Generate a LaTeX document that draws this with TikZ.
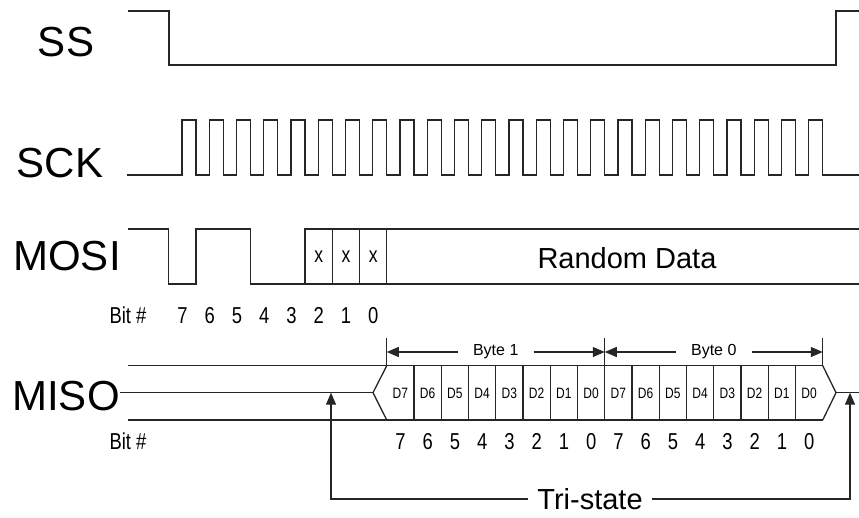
\documentclass[tikz,border=0pt]{standalone}
\usepackage{fontspec}
\setmainfont{Liberation Sans}
\newfontfamily\narrowfont[FakeStretch=0.8]{Liberation Sans}
\usetikzlibrary{calc,arrows.meta}
\tikzstyle{wave}=[line width=1.3pt, draw=black!85]
\tikzstyle{signame}=[font=\fontsize{42}{42}\selectfont, inner sep=0]
\tikzstyle{bigtxt}=[font=\fontsize{29}{29}\selectfont, inner sep=0]
\tikzstyle{bittxt}=[font=\narrowfont\fontsize{23}{23}\selectfont, inner sep=0, text height=16.5pt, text depth=0pt]
\tikzstyle{celltxt}=[font=\narrowfont\fontsize{15}{15}\selectfont, inner sep=0, text height=10.7pt, text depth=0pt]
\tikzstyle{bytetxt}=[font=\fontsize{16}{16}\selectfont, inner xsep=15pt, inner ysep=0]
\tikzstyle{arr}=[wave, -{Triangle[length=12pt, width=10pt]}]

\begin{document}
\begin{tikzpicture}[x=1pt, y=-1pt]
\useasboundingbox (0,0) rectangle (859,517);
%
\draw (66,42) node[signame] (ss) {SS};
\draw[wave] (128,11) -- (169,11) -- (169,65) -- (836,65) -- (836,11) -- (859,11);
%
\draw (60,163) node[signame] (sck) {SCK};
\draw[wave] (127,175) -- (182,175)
    foreach \k in {0,...,23} { -- ({182+27.25*\k},120) -- ({196+27.25*\k},120)
    -- ({196+27.25*\k},175) -- ({209.25+27.25*\k},175) } -- (859,175);
%
\draw (67,256) node[signame] (mosi) {MOSI};
\draw[wave] (128,229) -- (168.75,229) -- (168.75,284) -- (196,284) -- (196,229)
    -- (250.5,229) -- (250.5,284) -- (305,284) -- (305,229) -- (859,229);
\draw[wave] (305,284) -- (859,284);
\foreach \k in {6,7,8}
    \draw[wave] ({168.75+27.25*\k},229) -- ({168.75+27.25*\k},284);
\foreach \k in {5,6,7}
    \draw ({182.4+27.25*\k},257) node[font=\narrowfont\fontsize{22}{22}\selectfont, inner sep=0] (x\k) {x};
\draw (627,258) node[bigtxt] (rnd) {Random Data};
\draw (128,315) node[bittxt] (mosibit) {Bit \#};
\foreach \k in {0,...,7}
    {
    \pgfmathtruncatemacro\b{7-\k}
    \draw ({182.4+27.25*\k},315) node[bittxt] (mb\k) {\b};}
%
\draw (66,396.5) node[signame] (miso) {MISO};
\coordinate (mid) at (373,392.7);
\draw[wave] (128,365.7) -- (822.75,365.7);
\draw[wave] (128,420) -- (822.75,420);
\draw[wave] (miso.east |- mid) -- (mid);
\draw[wave] (386.75,365.7) -- (mid) -- (386.75,420);
\draw[wave] (822.75,365.7) -- (836,392.7) -- (822.75,420);
\draw[wave] (836,392.7) -- (859,392.7);
\foreach \j in {1,...,15}
    \draw[wave] ({386.75+27.25*\j},365.7) -- ({386.75+27.25*\j},420);
\foreach \j in {0,...,15}
    {
    \pgfmathtruncatemacro\d{mod(23-\j,8)}
    \draw ({400.4+27.25*\j},392.7) node[celltxt] (d\j) {D\d};
    \draw ({400.4+27.25*\j},441) node[bittxt] (sb\j) {\d};}
\draw (128,441) node[bittxt] (misobit) {Bit \#};
%
\foreach \x in {386.75,604.75,822.75}
    \draw[wave] (\x,338) -- (\x,365.7);
\coordinate (t1) at (386.75,352);
\coordinate (t2) at (604.75,352);
\coordinate (t3) at (822.75,352);
\draw (495.75,352) node[bytetxt] (byte1) {Byte 1};
\draw (713.75,352) node[bytetxt] (byte0) {Byte 0};
\draw[arr] (byte1.west) -- (t1);
\draw[arr] (byte1.east) -- (t2);
\draw[arr] (byte0.west) -- (t2);
\draw[arr] (byte0.east) -- (t3);
%
\coordinate (ta) at (331,392.7);
\coordinate (tb) at (850,392.7);
\draw (590,499) node[bigtxt, inner xsep=9pt] (tri) {Tri-state};
\draw[arr] (tri.west) -| (ta);
\draw[arr] (tri.east) -| (tb);
\end{tikzpicture}
\end{document}
